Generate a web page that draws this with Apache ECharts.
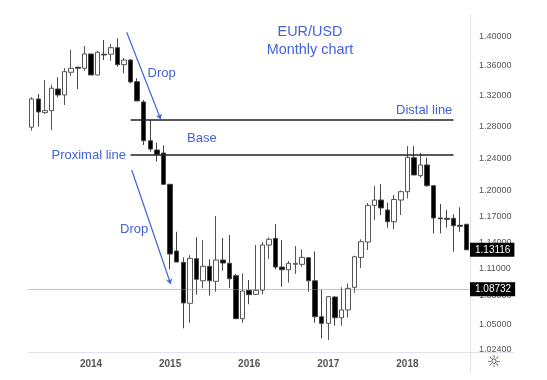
<!DOCTYPE html>
<html>
<head>
<meta charset="utf-8">
<style>
  html, body { margin: 0; padding: 0; background: #fff; }
  #chart { width: 547px; height: 380px; }
</style>
</head>
<body>
<div id="chart"></div>
<script src="https://cdn.jsdelivr.net/npm/echarts@6/dist/echarts.min.js"></script>
<script>
// monthly bars, Apr 2013 - Oct 2018
const months = []
for (let y = 2013, m = 4; y < 2018 || m <= 10; m++) {
  if (m > 12) { m = 1; y++ }
  months.push(y + '-' + String(m).padStart(2, '0'))
}

const opens = [
  1.2790, 1.3157, 1.2978, 1.3004, 1.3289, 1.3210, 1.3514, 1.3582, 1.3568, 1.3764, 1.3477, 1.3760,
  1.3760, 1.3851, 1.3617, 1.3681, 1.3387, 1.3118, 1.2618, 1.2501, 1.2464, 1.2079, 1.1298, 1.1170,
  1.0722, 1.1211, 1.0966, 1.1126, 1.0960, 1.1196, 1.1160, 1.1022, 1.0557, 1.0862, 1.0818, 1.0862,
  1.1366, 1.1442, 1.1118, 1.1088, 1.1148, 1.1148, 1.1222, 1.0966, 1.0578, 1.0508, 1.0789, 1.0567,
  1.0650, 1.0894, 1.1226, 1.1400, 1.1827, 1.1890, 1.1772, 1.1634, 1.1890, 1.1990, 1.2405, 1.2184,
  1.2315, 1.2062, 1.1678, 1.1674, 1.1674, 1.1593, 1.1605
]
const closes = [
  1.3157, 1.2987, 1.3004, 1.3299, 1.3210, 1.3522, 1.3568, 1.3568, 1.3764, 1.3477, 1.3787, 1.3750,
  1.3851, 1.3617, 1.3681, 1.3383, 1.3131, 1.2618, 1.2513, 1.2448, 1.2079, 1.1264, 1.1174, 1.0725,
  1.1215, 1.0982, 1.1126, 1.0966, 1.1196, 1.1163, 1.0988, 1.0557, 1.0854, 1.0814, 1.0862, 1.1366,
  1.1431, 1.1118, 1.1088, 1.1159, 1.1159, 1.1226, 1.0966, 1.0578, 1.0508, 1.0793, 1.0567, 1.0650,
  1.0883, 1.1233, 1.1404, 1.1827, 1.1890, 1.1796, 1.1634, 1.1896, 1.1990, 1.2410, 1.2192, 1.2315,
  1.2062, 1.1678, 1.1669, 1.1662, 1.1588, 1.1581, 1.13116
]
const lows = [
  1.2746, 1.2797, 1.2961, 1.2755, 1.3180, 1.3078, 1.3464, 1.3289, 1.3535, 1.3477, 1.3477, 1.3681,
  1.3671, 1.3590, 1.3500, 1.3365, 1.3131, 1.2564, 1.2480, 1.2356, 1.2079, 1.1093, 1.1174, 1.0456,
  1.0515, 1.0814, 1.0883, 1.0803, 1.0847, 1.1077, 1.0890, 1.0557, 1.0515, 1.0711, 1.0811, 1.0818,
  1.1207, 1.1093, 1.0901, 1.0945, 1.1041, 1.1122, 1.0847, 1.0515, 1.0352, 1.0334, 1.0483, 1.0483,
  1.0567, 1.0836, 1.1107, 1.1309, 1.1654, 1.1713, 1.1565, 1.1546, 1.1713, 1.1910, 1.2192, 1.2159,
  1.2050, 1.1500, 1.1500, 1.1565, 1.1290, 1.1518, 1.13116
]
const highs = [
  1.3180, 1.3223, 1.3410, 1.3343, 1.3446, 1.3572, 1.3819, 1.3590, 1.3874, 1.3764, 1.3809, 1.3958,
  1.3902, 1.3982, 1.3708, 1.3690, 1.3433, 1.3144, 1.2883, 1.2593, 1.2560, 1.2079, 1.1518, 1.1226,
  1.1252, 1.1454, 1.1423, 1.1204, 1.1701, 1.1446, 1.1480, 1.1040, 1.1048, 1.0974, 1.1366, 1.1400,
  1.1454, 1.1608, 1.1420, 1.1185, 1.1354, 1.1317, 1.1226, 1.1294, 1.0865, 1.0800, 1.0800, 1.0894,
  1.0938, 1.1244, 1.1431, 1.1854, 1.2058, 1.2083, 1.1858, 1.1950, 1.2004, 1.2550, 1.2550, 1.2467,
  1.2405, 1.2062, 1.1843, 1.1772, 1.1721, 1.1804, 1.1605
]

const priceTicks = [1.024, 1.05, 1.08, 1.11, 1.14, 1.17, 1.2, 1.24, 1.28, 1.32, 1.36, 1.4]
const distalLevel = 1.2889
const proximalLevel = 1.2439
const lastPrice = 1.13116
const markedPrice = 1.08732

const blue = '#4263d8'
const rule = '#e0e3eb'

const chart = echarts.init(document.getElementById('chart'), null, { renderer: 'canvas' })

const noteText = (text, x, y, size, align) => ({
  type: 'text',
  x,
  y,
  z: 50,
  style: {
    text,
    x: 0,
    y: 0,
    fill: blue,
    font: size + 'px "Liberation Sans"',
    align: align || 'left',
    verticalAlign: 'middle',
  },
})

const priceTag = (value, lineStyle) => [
  {
    yAxis: value,
    x: 28.4,
    symbol: 'none',
    lineStyle,
    label: {
      show: true,
      position: 'end',
      distance: 0,
      formatter: value.toFixed(5),
      color: '#fff',
      backgroundColor: '#000',
      fontFamily: 'Liberation Sans',
      fontSize: 10,
      padding: [2, 4, 2, 5],
    },
  },
  { yAxis: value, x: 470, symbol: 'none' },
]

const levelLine = (value) => [
  { coord: [15, value], symbol: 'none' },
  { coord: [64, value], symbol: 'none' },
]

const arrowLine = (x1, y1, x2, y2) => [
  { x: x1, y: y1, symbol: 'none', lineStyle: { color: blue, width: 1.2, type: 'solid' } },
  { x: x2, y: y2, symbol: 'arrow', symbolSize: 5 },
]

chart.setOption({
  animation: false,
  backgroundColor: '#fff',
  grid: { left: 28.4, right: 77, top: 15, bottom: 28, containLabel: false },
  xAxis: {
    type: 'category',
    data: months,
    boundaryGap: true,
    axisLine: { lineStyle: { color: rule } },
    axisTick: { show: false },
    splitLine: { show: false },
    axisLabel: {
      interval: (i, v) => v.endsWith('-01'),
      formatter: (v) => v.slice(0, 4),
      color: '#555',
      fontFamily: 'Liberation Sans',
      fontWeight: 'bold',
      fontSize: 10,
      margin: 7,
    },
  },
  yAxis: {
    type: 'log',
    position: 'right',
    min: 1.02106,
    max: 1.4312,
    axisLine: { show: true, lineStyle: { color: rule } },
    axisTick: { show: false },
    splitLine: { show: false },
    minorTick: { show: false },
    axisLabel: {
      customValues: priceTicks,
      formatter: (v) => Number(v).toFixed(5),
      color: '#555',
      fontFamily: 'Liberation Sans',
      fontSize: 9,
      margin: 9,
    },
  },
  series: [
    {
      type: 'candlestick',
      data: months.map((m, i) => [opens[i], closes[i], lows[i], highs[i]]),
      barWidth: 5,
      itemStyle: {
        color: '#fff',
        color0: '#000',
        borderColor: '#555',
        borderColor0: '#444',
        borderColorDoji: '#444',
        borderWidth: 1,
      },
      markLine: {
        silent: true,
        animation: false,
        symbol: 'none',
        label: { show: false },
        lineStyle: { color: '#222', width: 1.5, type: 'solid' },
        data: [
          levelLine(distalLevel),
          levelLine(proximalLevel),
          priceTag(markedPrice, { color: '#888', width: 1, type: 'dotted' }),
          priceTag(lastPrice, { color: 'transparent', width: 0 }),
          arrowLine(126.7, 32.3, 160.7, 119.3),
          arrowLine(131.7, 170, 170.7, 284),
        ],
      },
    },
  ],
  graphic: [
    // axis rules run on past the plot area
    { type: 'line', z: 1, shape: { x1: 470.5, y1: 352, x2: 470.5, y2: 372 }, style: { stroke: rule } },
    { type: 'line', z: 3, shape: { x1: 470, y1: 352.5, x2: 514, y2: 352.5 }, style: { stroke: rule } },
    {
      type: 'text',
      x: 494,
      y: 363,
      z: 3,
      style: { text: '☼', fill: '#444', font: '16px "DejaVu Sans"', align: 'center', verticalAlign: 'middle' },
    },
    noteText('EUR/USD', 310, 32, 14.4, 'center'),
    noteText('Monthly chart', 310, 50, 14.4, 'center'),
    noteText('Drop', 147.5, 73, 13),
    noteText('Drop', 120, 229, 13),
    noteText('Base', 187, 138, 13),
    noteText('Proximal line', 51.5, 155, 13),
    noteText('Distal line', 396, 110, 13),
  ],
})
</script>
</body>
</html>
